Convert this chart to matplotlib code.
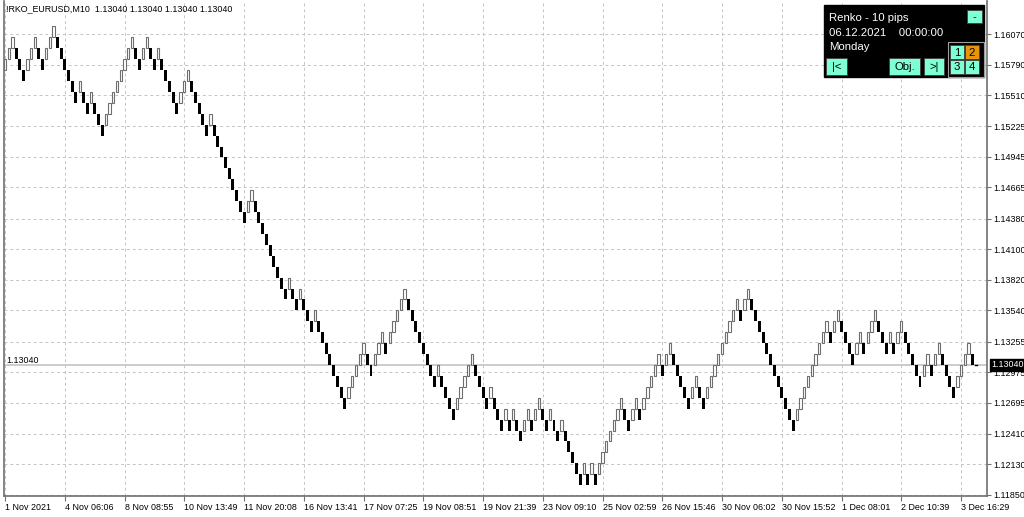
import numpy as np
import matplotlib
matplotlib.use("Agg")
import matplotlib.pyplot as plt
import matplotlib.transforms as mtransforms
from matplotlib.patches import Rectangle

plt.rcParams['font.family'] = ['Liberation Sans', 'DejaVu Sans']

# --- data -------------------------------------------------------------------
symbol_line = "!RKO_EURUSD,M10  1.13040 1.13040 1.13040 1.13040"
brick_size = 0.0010
first_open = 1.1574
last_price = 1.13040

# signed run lengths of consecutive renko bricks (+ up, - down), left to right
brick_runs = [3, -3, 3, -2, 3, -6, 1, -2, 1, -3, 8, -2, 2, -2, 1, -5, 3, -5, 1, -9,
              2, -9, 1, -2, 1, -3, 1, -8, 5, -2, 3, -1, 5, -8, 1, -4, 5, -4,
              1, -3, 1, -1, 1, -2, 2, -1, 2, -2, 1, -2, 1, -5, 1, -1, 1, -1, 7,
              -2, 2, -1, 5, -1, 2, -5, 2, -2,
              9, -1, 2, -12, 9, -1, 2, -4, 2, -1, 3, -3, 1, -1, 2, -5, 2, -1,
              2, -4, 4, -1]

price_ticks = [1.16070, 1.15790, 1.15510, 1.15225, 1.14945, 1.14665, 1.14380, 1.14100,
               1.13820, 1.13540, 1.13255, 1.12975, 1.12695, 1.12410, 1.12130, 1.11850]

time_tick_bricks = [0, 16, 32, 48, 64, 80, 96, 112, 128, 144, 160, 176, 192, 208, 224, 240, 256]
time_labels = ["1 Nov 2021", "4 Nov 06:06", "8 Nov 08:55", "10 Nov 13:49", "11 Nov 20:08",
               "16 Nov 13:41", "17 Nov 07:25", "19 Nov 08:51", "19 Nov 21:39", "23 Nov 09:10",
               "25 Nov 02:59", "26 Nov 15:46", "30 Nov 06:02", "30 Nov 15:52", "1 Dec 08:01",
               "2 Dec 10:39", "3 Dec 16:29"]

panel_title = "Renko - 10 pips"
panel_date = "06.12.2021    00:00:00"
panel_day = "Monday"

# --- build bricks -----------------------------------------------------------
dirs = np.concatenate([np.full(abs(r), np.sign(r)) for r in brick_runs])
opens, closes = [], []
for i, d in enumerate(dirs):
    if i == 0:
        o = first_open
    elif d == dirs[i - 1]:
        o = closes[-1]
    else:
        o = opens[-1]
    opens.append(o)
    closes.append(o + d * brick_size)
opens = np.array(opens)
closes = np.array(closes)
xs = np.arange(len(dirs))
up = dirs > 0
lows = np.minimum(opens, closes)

# --- figure -----------------------------------------------------------------
W, H = 1024, 517
fig = plt.figure(figsize=(W / 100, H / 100), dpi=100)
ax = fig.add_axes([4 / W, (H - 496) / H, (987 - 4) / W, (496 - 1) / H])

ax.set_xlim(-0.268, 262.94)
ax.set_ylim(1.118408, 1.163721)

grid_c = '#c4c4c4'
ax.set_axisbelow(True)
ax.grid(True, color=grid_c, linestyle=(0, (3, 3)), linewidth=0.7)

ax.axhline(last_price, color='#c8c8c8', linewidth=1.3, zorder=1.5)

ax.bar(xs[~up], brick_size, bottom=lows[~up], width=0.8, color='black',
       linewidth=0, zorder=3)
ax.bar(xs[up], brick_size, bottom=lows[up], width=0.62, facecolor='white',
       edgecolor='#6e6e6e', linewidth=0.8, zorder=3)
# current (still forming) bar
ax.plot([len(dirs) - 0.3, len(dirs) + 0.3], [last_price, last_price], color='black',
        linewidth=1, zorder=3)

ax.yaxis.tick_right()
ax.set_yticks(price_ticks)
ax.set_yticklabels([f"{p:.5f}" for p in price_ticks])
ax.set_xticks(time_tick_bricks)
ax.set_xticklabels(time_labels)
for lab in ax.get_xticklabels():
    lab.set_horizontalalignment('left')

ax.tick_params(axis='y', direction='out', length=3, width=0.8, color='#707070',
               pad=1.5, labelsize=6.4)
ax.tick_params(axis='x', direction='out', length=3.5, width=0.8, color='#707070',
               pad=1.5, labelsize=6.4)

for side in ['left', 'right', 'bottom']:
    ax.spines[side].set_color('#707070')
    ax.spines[side].set_linewidth(1.2)
ax.spines['top'].set_visible(False)

blend = mtransforms.blended_transform_factory(ax.transAxes, ax.transData)
ax.text(2 / 983, last_price + 0.00002, f"{last_price:.5f}", transform=blend,
        ha='left', va='bottom', fontsize=6.4, color='black')
ax.text(1 + 4 / 983, last_price, f"{last_price:.5f}", transform=blend,
        ha='left', va='center', fontsize=6.4, color='white', clip_on=False, zorder=10,
        bbox=dict(boxstyle='square,pad=0.15', facecolor='black', edgecolor='black'))

# --- overlay in pixel coordinates (header text and info panel) --------------
ov = fig.add_axes([0, 0, 1, 1], zorder=5)
ov.set_xlim(0, W)
ov.set_ylim(H, 0)
ov.axis('off')
ov.patch.set_alpha(0)

ov.text(6, 8.5, symbol_line, ha='left', va='center', fontsize=6.4, color='black')

aqua = '#7fffd4'
orange = '#e8950a'
ov.add_patch(Rectangle((824, 5), 160, 72, facecolor='black', edgecolor='black'))
ov.text(829, 18, panel_title, color='white', fontsize=8.2, va='center', ha='left')
ov.text(829, 33, panel_date, color='white', fontsize=8.2, va='center', ha='left')
ov.text(829, 47, panel_day, color='white', fontsize=8.2, va='center', ha='left')


def button(x, y, w, h, label, fc=aqua):
    ov.add_patch(Rectangle((x, y), w, h, facecolor=fc, edgecolor='#404040', linewidth=0.6))
    ov.text(x + w / 2, y + h / 2 + 0.5, label, color='black', fontsize=8.2,
            ha='center', va='center')


button(967, 10, 15, 13, "-")
button(826, 58, 21, 17, "|<")
button(889, 58, 31, 17, "Obj.")
button(924, 58, 20, 17, ">|")
ov.add_patch(Rectangle((948, 42), 36, 35, facecolor='none', edgecolor='#a0a0a0', linewidth=0.8))
button(950, 45, 14, 14, "1")
button(965, 45, 14, 14, "2", fc=orange)
button(950, 60, 14, 14, "3")
button(965, 60, 14, 14, "4")

fig.savefig("out.png", dpi=100)
